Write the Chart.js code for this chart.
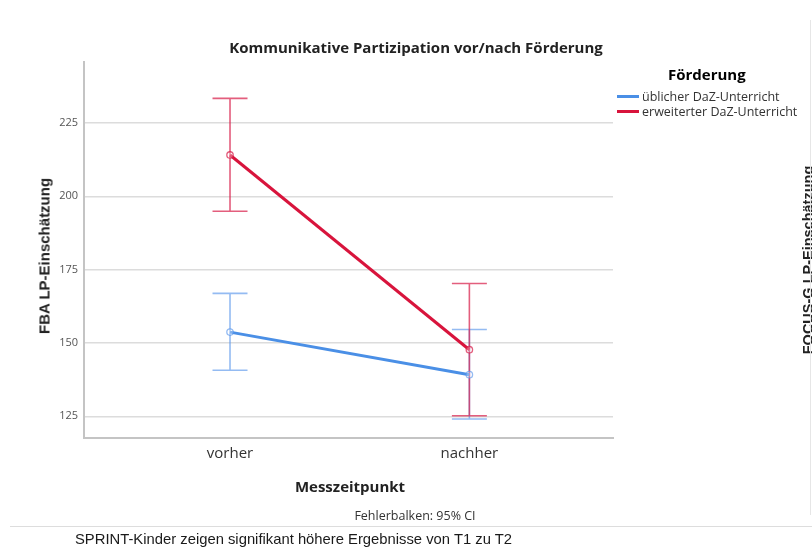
<!DOCTYPE html>
<html lang="de">
<head>
<meta charset="utf-8">
<title>Kommunikative Partizipation vor/nach Förderung</title>
<script src="https://cdn.jsdelivr.net/npm/chart.js@4.4.1/dist/chart.umd.min.js"></script>
<style>
  html, body { margin: 0; padding: 0; background: #fff; }
  body { width: 812px; height: 549px; position: relative; overflow: hidden; font-family: "Open Sans", "DejaVu Sans", sans-serif; }
  #wrap { position: absolute; left: 0; top: 0; width: 812px; height: 549px; }
  .txt { position: absolute; white-space: nowrap; color: #222; }
  #title { left: 416px; top: 37px; transform: translateX(-50%); font-weight: 700; font-size: 15px; }
  #ytitle { left: 44px; top: 256px; transform: translate(-50%, -50%) rotate(-90deg); font-family: "Liberation Sans", Arial, sans-serif; font-weight: 700; font-size: 15px; }
  #ytitle2 { left: 808px; top: 260px; transform: translate(-50%, -50%) rotate(-90deg); font-family: "Liberation Sans", Arial, sans-serif; font-weight: 700; font-size: 14.5px; }
  #xtitle { left: 350px; top: 476px; transform: translateX(-50%); font-weight: 700; font-size: 15px; }
  #note { left: 415px; top: 507px; transform: translateX(-50%); font-size: 12.5px; color: #333; }
  #caption { left: 75px; top: 531px; font-family: "Liberation Sans", Arial, sans-serif; font-size: 14.8px; color: #1a1a1a; }
  #sep { position: absolute; left: 10px; right: 0; top: 526px; height: 1px; background: #ddd; }
  #edge { position: absolute; left: 810px; top: 20px; width: 1px; height: 495px; background: #e6e6e6; }
  #legend { position: absolute; left: 617px; top: 63px; }
  #legend .head { font-weight: 700; font-size: 15px; margin-left: 51px; height: 26px; line-height: 22px; }
  #legend .item { display: flex; align-items: center; font-size: 12.5px; height: 15px; color: #333; }
  #legend .sw { width: 22px; height: 3px; margin-right: 3px; }
</style>
</head>
<body>
<div id="wrap"><canvas id="c" width="812" height="549"></canvas></div>
<div class="txt" id="title">Kommunikative Partizipation vor/nach Förderung</div>
<div class="txt" id="ytitle">FBA LP-Einschätzung</div>
<div class="txt" id="ytitle2">FOCUS-G LP-Einschätzung</div>
<div class="txt" id="xtitle">Messzeitpunkt</div>
<div class="txt" id="note">Fehlerbalken: 95% CI</div>
<div id="sep"></div>
<div id="edge"></div>
<div class="txt" id="caption">SPRINT-Kinder zeigen signifikant höhere Ergebnisse von T1 zu T2</div>
<div id="legend"></div>
<script>
// Measurement times and group labels
const categories = ["vorher", "nachher"];
const seriesNames = ["üblicher DaZ-Unterricht", "erweiterter DaZ-Unterricht"];

// Group means per measurement time
const meanUeblich = [153.7, 139.2];
const meanErweitert = [214.1, 147.7];

// 95% confidence interval bounds
const ciLowUeblich = [140.7, 124.1];
const ciHighUeblich = [166.9, 154.6];
const ciLowErweitert = [194.9, 125.2];
const ciHighErweitert = [233.4, 170.3];

// Y axis tick values
const yTicks = [125, 150, 175, 200, 225];

const lineColors = ["#4a8fe6", "#d8143c"];
const barColors = ["rgba(90,150,235,0.65)", "rgba(215,25,70,0.7)"];

const groups = [
  { name: seriesNames[0], mean: meanUeblich, lo: ciLowUeblich, hi: ciHighUeblich },
  { name: seriesNames[1], mean: meanErweitert, lo: ciLowErweitert, hi: ciHighErweitert }
];

// Legend built from the series
const legend = document.getElementById("legend");
legend.innerHTML = '<div class="head">Förderung</div>' + groups.map((g, i) =>
  '<div class="item"><span class="sw" style="background:' + lineColors[i] + '"></span>' + g.name + '</div>'
).join("");

// Error bars with caps, drawn from the CI arrays through the chart scales
const errorBars = {
  id: "errorBars",
  beforeDatasetsDraw(chart) {
    const { ctx, scales: { x, y } } = chart;
    ctx.save();
    ctx.lineWidth = 1.6;
    const cap = 17.5;
    groups.forEach((g, gi) => {
      ctx.strokeStyle = barColors[gi];
      g.mean.forEach((_, i) => {
        const px = x.getPixelForValue(i);
        const top = y.getPixelForValue(g.hi[i]);
        const bot = y.getPixelForValue(g.lo[i]);
        ctx.beginPath();
        ctx.moveTo(px, top); ctx.lineTo(px, bot);
        ctx.moveTo(px - cap, top); ctx.lineTo(px + cap, top);
        ctx.moveTo(px - cap, bot); ctx.lineTo(px + cap, bot);
        ctx.stroke();
      });
    });
    ctx.restore();
  }
};

new Chart(document.getElementById("c"), {
  type: "line",
  data: {
    datasets: groups.map((g, gi) => ({
      label: g.name,
      data: g.mean.map((v, i) => ({ x: i, y: v })),
      borderColor: lineColors[gi],
      backgroundColor: "rgba(255,255,255,0)",
      borderWidth: 3,
      pointRadius: 3.2,
      pointBorderWidth: 1.3,
      pointBorderColor: barColors[gi],
      pointBackgroundColor: "rgba(255,255,255,0.3)",
      tension: 0
    }))
  },
  options: {
    responsive: false,
    animation: false,
    layout: { padding: { left: 0, top: 62, right: 199, bottom: 0 } },
    plugins: { legend: { display: false }, title: { display: false }, tooltip: { enabled: false } },
    scales: {
      x: {
        type: "linear",
        min: -0.61,
        max: 1.6,
        afterBuildTicks: s => { s.ticks = categories.map((_, i) => ({ value: i })); },
        afterFit: s => { s.height = 111; },
        grid: { display: false, drawTicks: false },
        border: { display: true, color: "#c4c4c4", width: 2 },
        ticks: {
          callback: v => categories[v],
          color: "#333",
          padding: 7,
          font: { family: "Open Sans", size: 15 }
        }
      },
      y: {
        type: "linear",
        min: 117.6,
        max: 245.8,
        afterBuildTicks: s => { s.ticks = yTicks.map(v => ({ value: v })); },
        afterFit: s => { s.width = 84; },
        grid: { color: "#dcdcdc", lineWidth: 1.5, drawTicks: false },
        border: { display: true, color: "#c4c4c4", width: 2 },
        ticks: {
          color: "#555",
          padding: 6,
          font: { family: "Open Sans", size: 11 }
        }
      }
    }
  },
  plugins: [errorBars]
});
</script>
</body>
</html>
